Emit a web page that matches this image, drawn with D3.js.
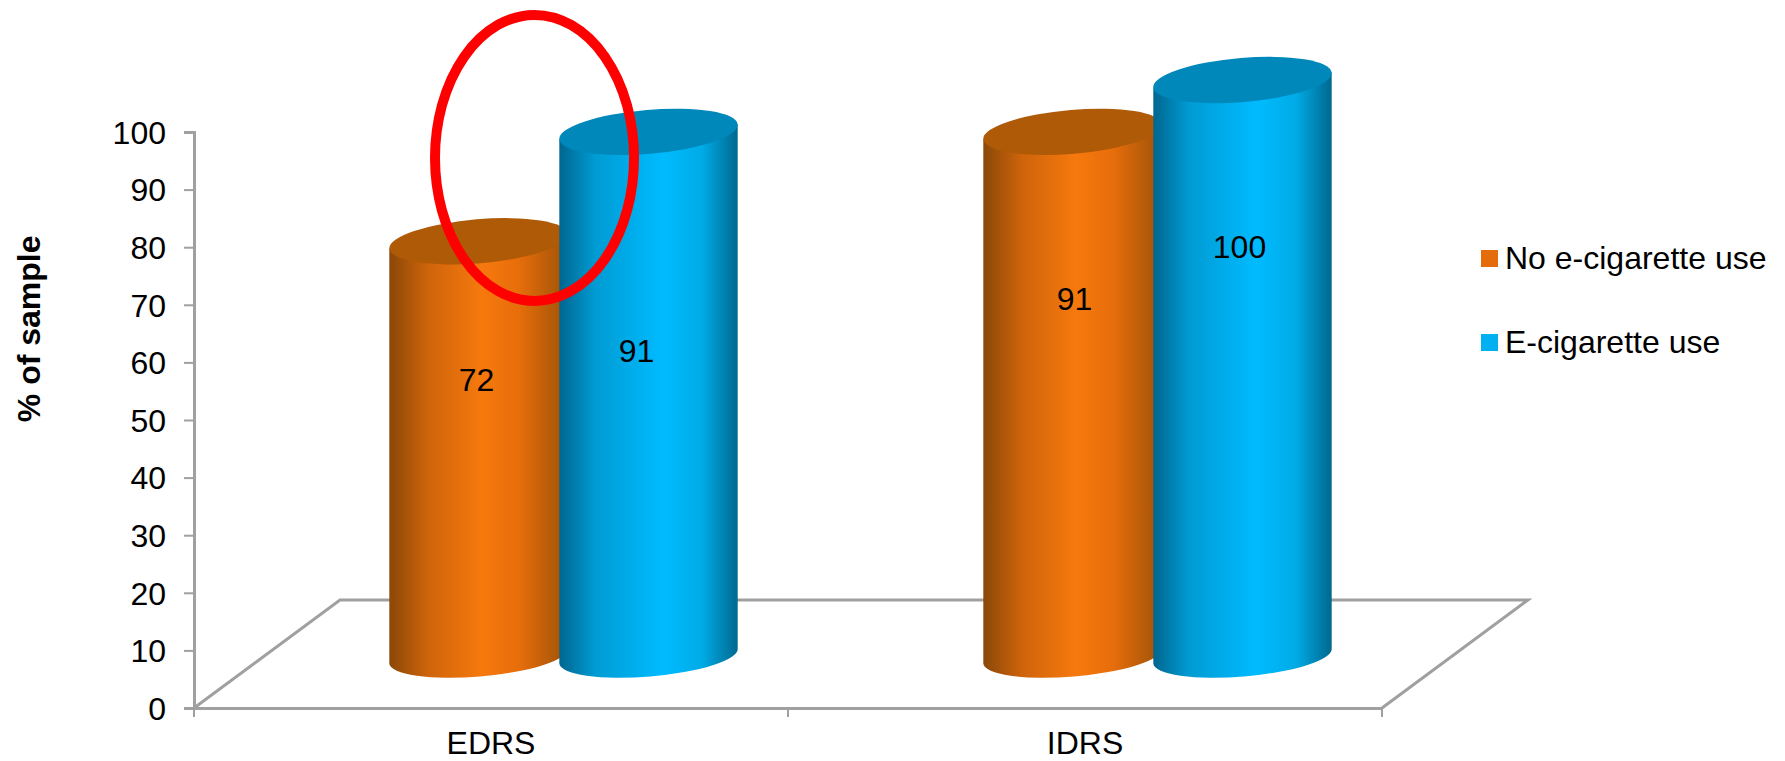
<!DOCTYPE html>
<html>
<head>
<meta charset="utf-8">
<style>
  html, body { margin: 0; padding: 0; background: #fff; }
  svg { display: block; }
  text { font-family: "Liberation Sans", Arial, sans-serif; fill: #000; }
</style>
<script src="https://cdn.jsdelivr.net/npm/d3@7"></script>
</head>
<body>
<svg id="chart" width="1785" height="761"></svg>
<script>
// Survey samples and the two user groups plotted for each of them
const categories = ["EDRS", "IDRS"];
const seriesNames = ["No e-cigarette use", "E-cigarette use"];
const noUseValues = [72, 91];
const useValues = [91, 100];
// Height on the value axis at which each in-bar number sits
const noUseLabelLevels = [57, 71];
const useLabelLevels = [62, 80];
const valueTicks = [0, 10, 20, 30, 40, 50, 60, 70, 80, 90, 100];
const axisTitle = "% of sample";

const seriesColors = ["#E46C0A", "#00B0F0"];
const capColors = ["#AF5A07", "#0088BB"];
const shadeStops = [
  [[0, "#8A4808"], [0.22, "#CF640B"], [0.52, "#F6790D"], [0.72, "#E86E0B"], [1, "#9E5208"]],
  [[0, "#00668F"], [0.2, "#009BD3"], [0.58, "#00BBFF"], [0.8, "#00ABE6"], [1, "#00688F"]]
];

const svg = d3.select("#chart");
const y = d3.scaleLinear().domain([0, 100]).range([708, 132]);
const x = d3.scaleBand().domain(categories).range([194, 1382]);
// Offsets of each cylinder from its category centre
const seriesX = d3.scaleBand().domain(seriesNames).range([-97.5, 242.5]);

// Perspective of the chart floor and of the cylinder ellipses
const depthX = 146, depthY = 108;
const barShiftY = 52;
const rx = 89.5, ry = 22, baseRy = 20.5, tilt = -4.8;
const rad = tilt * Math.PI / 180;
const dx = rx * Math.cos(rad), dy = rx * Math.sin(rad);
const fontSize = 32;
const sansStack = '"Liberation Sans", Arial, sans-serif';

const defs = svg.append("defs");
seriesNames.forEach((name, i) => {
  const g = defs.append("linearGradient").attr("id", "shade" + i)
    .attr("x1", 0).attr("x2", 1).attr("y1", 0).attr("y2", 0);
  shadeStops[i].forEach(s => g.append("stop").attr("offset", s[0]).attr("stop-color", s[1]));
});

// Floor outline
const [x0, x1] = x.range();
const floorY = y(0);
const axisGrey = "#A0A0A0";
svg.append("path")
  .attr("d", `M${x0},${floorY}L${x0 + depthX},${floorY - depthY}L${x1 + depthX},${floorY - depthY}L${x1},${floorY}`)
  .attr("fill", "none").attr("stroke", axisGrey).attr("stroke-width", 3);

// Category axis
const xAxis = svg.append("g").attr("transform", `translate(0,${floorY})`)
  .call(d3.axisBottom(x).tickSize(0).tickPadding(23));
xAxis.selectAll("text").attr("font-size", fontSize).attr("dy", "0.71em")
  .style("font-family", sansStack);
xAxis.select(".domain").attr("stroke", axisGrey).attr("stroke-width", 3);
xAxis.selectAll(".edge").data([x0, x0 + x.step(), x1]).enter().append("line")
  .attr("class", "edge").attr("x1", d => d).attr("x2", d => d)
  .attr("y1", 0).attr("y2", 9).attr("stroke", axisGrey).attr("stroke-width", 2);

// Value axis
const yAxis = svg.append("g").attr("transform", `translate(${x0},0)`)
  .call(d3.axisLeft(y).tickValues(valueTicks).tickSize(10).tickPadding(18));
yAxis.selectAll("text").attr("font-size", fontSize).attr("dy", "0.35em")
  .style("font-family", sansStack);
yAxis.select(".domain").attr("stroke", axisGrey).attr("stroke-width", 3);
yAxis.selectAll(".tick line").attr("stroke", axisGrey).attr("stroke-width", 2);

svg.append("text")
  .attr("transform", `translate(40,${y(66) + 1}) rotate(-90)`)
  .attr("text-anchor", "middle").attr("font-size", fontSize).attr("font-weight", "bold")
  .text(axisTitle);

// Cylinders, one pair per category; the second series overlaps the first
// labelNudge moves a printed value sideways on its cylinder
const noUseLabelNudge = [-2, 2];
const useLabelNudge = [-12, -3];
const rows = seriesNames.map((name, s) =>
  categories.map((c, i) => ({
    series: s,
    cat: c,
    value: (s === 0 ? noUseValues : useValues)[i],
    label: (s === 0 ? noUseLabelLevels : useLabelLevels)[i],
    nudge: (s === 0 ? noUseLabelNudge : useLabelNudge)[i]
  })));

const centreX = d => x(d.cat) + x.bandwidth() / 2 + seriesX(seriesNames[d.series]) + seriesX.bandwidth() / 2;

rows.forEach((row, s) => {
  const bars = svg.append("g").selectAll("g").data(row).enter().append("g");
  bars.append("path")
    .attr("d", d => {
      const cx = centreX(d), top = y(d.value) - barShiftY, bottom = y(0) - barShiftY;
      return `M${cx - dx},${top - dy}L${cx - dx},${bottom - dy}` +
        `A${rx},${baseRy} ${tilt} 0 0 ${cx + dx},${bottom + dy}` +
        `L${cx + dx},${top + dy}Z`;
    })
    .attr("fill", `url(#shade${s})`);
  bars.append("ellipse")
    .attr("rx", rx).attr("ry", ry)
    .attr("transform", d => `translate(${centreX(d)},${y(d.value) - barShiftY}) rotate(${tilt})`)
    .attr("fill", capColors[s]);
});

// Values printed on the cylinder bodies
rows.forEach(row => {
  svg.append("g").selectAll("text").data(row).enter().append("text")
    .attr("x", d => centreX(d) + d.nudge)
    .attr("y", d => y(d.label))
    .attr("dy", "0.35em")
    .attr("text-anchor", "middle")
    .attr("font-size", fontSize)
    .text(d => d.value);
});

// Legend
const legend = svg.append("g").selectAll("g").data(seriesNames).enter().append("g")
  .attr("transform", (d, i) => `translate(1481,${250 + i * 84})`);
legend.append("rect").attr("width", 17).attr("height", 17)
  .attr("fill", (d, i) => seriesColors[i]);
legend.append("text").attr("x", 24).attr("y", 19).attr("font-size", fontSize).text(d => d);

// Red ring calling out the EDRS gap
svg.append("ellipse")
  .attr("cx", x("EDRS") + x.bandwidth() / 2 + 43.5)
  .attr("cy", y(95.5))
  .attr("rx", 99.5).attr("ry", 143)
  .attr("fill", "none").attr("stroke", "#FF0000").attr("stroke-width", 10);
</script>
</body>
</html>
